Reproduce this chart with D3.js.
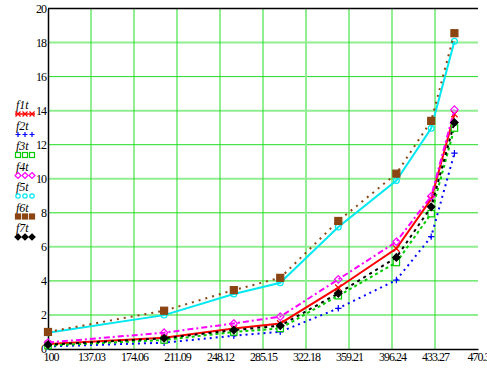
<!DOCTYPE html>
<head>
<meta charset="utf-8">
<style>
body { margin: 0; background: #fff; }
svg { display: block; }
.tick text { font: 12px "Liberation Serif", serif; letter-spacing: -1px; fill: #000; }
.leg text { font: italic 12px "Liberation Serif", serif; fill: #000; }
</style>
</head>
<body>
<svg width="487" height="373"></svg>
<script src="https://cdn.jsdelivr.net/npm/d3@7"></script>
<script>

var xs = [100, 200, 260, 300, 350, 400, 430, 450];

var f1t = [0.3, 0.66, 1.2, 1.5, 3.6, 5.9, 8.8, 13.8];
var f2t = [0.15, 0.37, 0.78, 1.01, 2.39, 4.05, 6.6, 11.5];
var f3t = [0.2, 0.53, 1.0, 1.21, 3.13, 5.08, 7.95, 12.98];
var f4t = [0.38, 0.96, 1.5, 1.9, 4.09, 6.3, 8.97, 14.06];
var f5t = [0.95, 1.99, 3.23, 3.89, 7.17, 9.9, 12.96, 18.08];
var f6t = [1.0, 2.25, 3.46, 4.18, 7.52, 10.3, 13.4, 18.55];
var f7t = [0.25, 0.63, 1.11, 1.37, 3.27, 5.38, 8.35, 13.3];

var xTicks = [100, 137.03, 174.06, 211.09, 248.12, 285.15, 322.18, 359.21, 396.24, 433.27, 470.3];
var yTicks = [0, 2, 4, 6, 8, 10, 12, 14, 16, 18, 20];

var series = [
  {name: "f1t", vals: f1t, color: "#ff0000", dash: null, mark: "x"},
  {name: "f2t", vals: f2t, color: "#0000ff", dash: "2,4", mark: "plus"},
  {name: "f3t", vals: f3t, color: "#00cc00", dash: "3,3", mark: "square"},
  {name: "f4t", vals: f4t, color: "#ff00ff", dash: "6,3,2,3", mark: "diamond"},
  {name: "f5t", vals: f5t, color: "#00e8f0", dash: null, mark: "circle"},
  {name: "f6t", vals: f6t, color: "#8b4513", dash: "2,5", mark: "fsquare"},
  {name: "f7t", vals: f7t, color: "#000000", dash: "3,4", mark: "fdiamond"}
];

var svg = d3.select("svg");
var pLeft = 48, pRight = 478, pTop = 8.5, pBottom = 349;

var x = d3.scaleLinear().domain([100, 470.3]).range([pLeft, pRight]);
var y = d3.scaleLinear().domain([0, 20]).range([pBottom, pTop]);

// grid
var grid = svg.append("g");
grid.selectAll(".hg").data(yTicks.slice(1, -1)).enter().append("line")
    .attr("x1", pLeft).attr("x2", pRight)
    .attr("y1", function(d) { return y(d); }).attr("y2", function(d) { return y(d); })
    .attr("stroke", function(d, i) { return i % 2 ? "#22dd22" : "#90ee90"; })
    .attr("stroke-width", function(d, i) { return i % 2 ? 1 : 2; });
grid.selectAll(".vg").data(xTicks.slice(1, -1)).enter().append("line")
    .attr("y1", pTop).attr("y2", pBottom)
    .attr("x1", function(d) { return x(d); }).attr("x2", function(d) { return x(d); })
    .attr("stroke", function(d, i) { return i == 5 ? "#90ee90" : "#22dd22"; })
    .attr("stroke-width", function(d, i) { return i == 5 ? 2 : 1; });

// axes
var xAxis = svg.append("g").attr("transform", "translate(0," + pBottom + ")")
    .call(d3.axisBottom(x).tickValues(xTicks).tickSize(0).tickPadding(3)
      .tickFormat(function(d) { return String(d); }));
xAxis.select(".domain").attr("stroke", "#000").attr("stroke-width", 1.5);
xAxis.selectAll(".tick text").filter(function(d) { return d === 100; })
    .attr("text-anchor", "start").attr("x", -5);

var yAxis = svg.append("g").attr("transform", "translate(" + pLeft + ",0)")
    .call(d3.axisLeft(y).tickValues(yTicks).tickSize(0).tickPadding(2));
yAxis.select(".domain").attr("stroke", "#000").attr("stroke-width", 1.5);

svg.append("line").attr("x1", pLeft).attr("x2", pRight).attr("y1", pTop).attr("y2", pTop)
    .attr("stroke", "#000").attr("stroke-width", 1.5);

svg.append("text").attr("x", (pLeft + pRight) / 2).attr("y", 378)
    .attr("text-anchor", "middle").style("font", "italic 11px 'Liberation Serif', serif").text("x");

function drawMark(g, kind, color, cx, cy, s) {
  if (kind == "x") {
    g.append("path").attr("d", "M" + (cx - s) + "," + (cy - s) + "L" + (cx + s) + "," + (cy + s) + "M" + (cx - s) + "," + (cy + s) + "L" + (cx + s) + "," + (cy - s))
      .attr("stroke", color).attr("stroke-width", 1.2).attr("fill", "none");
  } else if (kind == "plus") {
    g.append("path").attr("d", "M" + (cx - s) + "," + cy + "H" + (cx + s) + "M" + cx + "," + (cy - s) + "V" + (cy + s))
      .attr("stroke", color).attr("stroke-width", 1.2);
  } else if (kind == "square" || kind == "fsquare") {
    g.append("rect").attr("x", cx - s).attr("y", cy - s).attr("width", 2 * s).attr("height", 2 * s)
      .attr("fill", kind == "fsquare" ? color : "#fff").attr("stroke", color).attr("stroke-width", 1.2);
  } else if (kind == "diamond" || kind == "fdiamond") {
    var r = s + 0.5;
    g.append("path").attr("d", "M" + cx + "," + (cy - r) + "L" + (cx + r) + "," + cy + "L" + cx + "," + (cy + r) + "L" + (cx - r) + "," + cy + "Z")
      .attr("fill", kind == "fdiamond" ? color : "none").attr("stroke", color).attr("stroke-width", 1.2);
  } else if (kind == "circle") {
    g.append("circle").attr("cx", cx).attr("cy", cy).attr("r", s - 0.3)
      .attr("fill", "none").attr("stroke", color).attr("stroke-width", 1.2);
  }
}

var line = d3.line()
    .x(function(d, i) { return x(xs[i]); })
    .y(function(d) { return y(d); });

series.forEach(function(s) {
  var g = svg.append("g");
  g.append("path").datum(s.vals).attr("d", line)
    .attr("fill", "none").attr("stroke", s.color).attr("stroke-width", 2)
    .attr("stroke-dasharray", s.dash);
  s.vals.forEach(function(v, i) {
    drawMark(g, s.mark, s.color, x(xs[i]), y(v), s.mark == "fsquare" ? 3.5 : 3.2);
  });
});

// legend
var leg = svg.append("g").attr("class", "leg");
series.forEach(function(s, i) {
  var yy = 114 + i * 20.5;
  leg.append("text").attr("x", 16).attr("y", yy - 5).text(s.name);
  leg.append("line").attr("x1", 15).attr("x2", 35).attr("y1", yy).attr("y2", yy)
    .attr("stroke", s.color).attr("stroke-width", s.mark == "x" ? 1.5 : 0).attr("stroke-dasharray", s.dash);
  [18, 25, 32].forEach(function(mx) { drawMark(leg, s.mark, s.color, mx, yy, 2.5); });
});

</script>
</body>
